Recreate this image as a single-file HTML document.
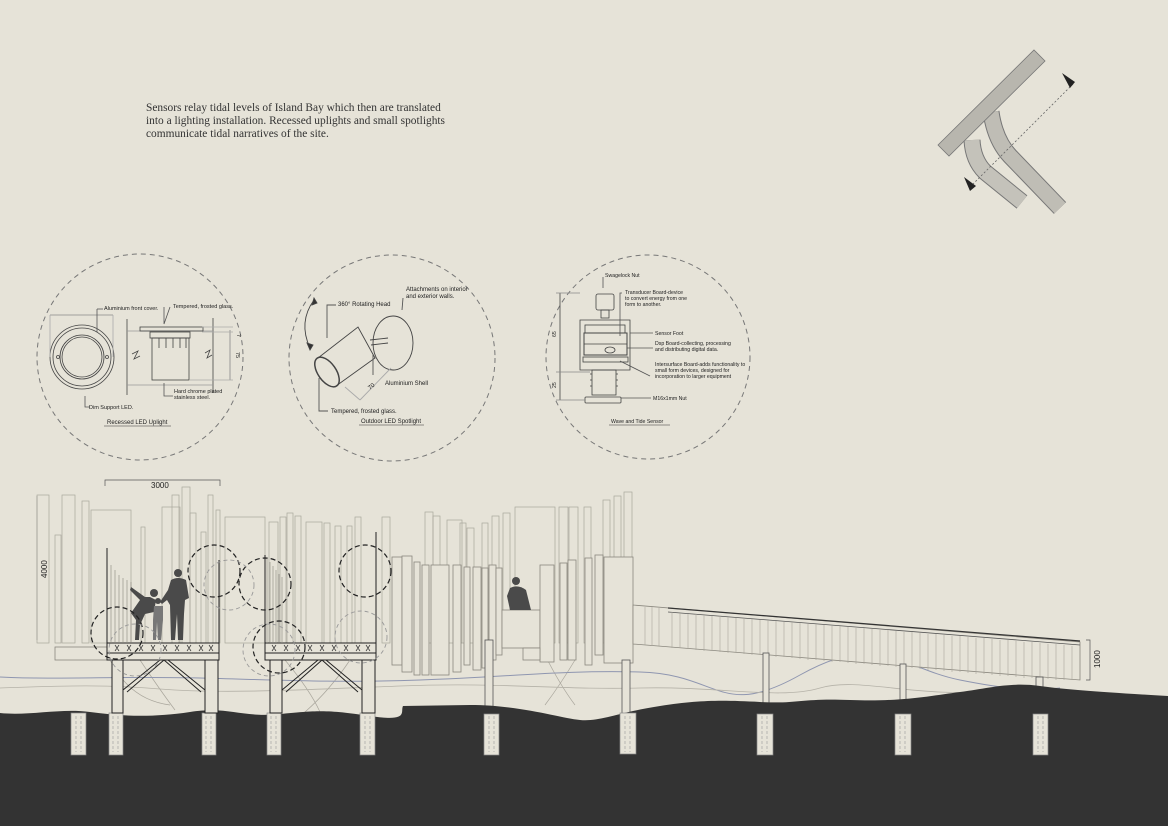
<!DOCTYPE html>
<html><head><meta charset="utf-8"><style>
html,body{margin:0;padding:0;background:#e6e3d8;}
svg{display:block}
.t{font-family:"Liberation Sans",sans-serif;fill:#222}
</style></head><body>
<svg width="1168" height="826" viewBox="0 0 1168 826" xmlns="http://www.w3.org/2000/svg">
<rect width="1168" height="826" fill="#e6e3d8"/>
<!-- Intro text -->
<text font-family="Liberation Serif,serif" font-size="11.4" fill="#333">
<tspan x="146" y="111">Sensors relay tidal levels of Island Bay which then are translated</tspan>
<tspan x="146" y="124">into a lighting installation. Recessed uplights and small spotlights</tspan>
<tspan x="146" y="137">communicate tidal narratives of the site.</tspan>
</text>

<!-- top right plan -->
<g fill="none" stroke-linecap="butt">
<path d="M991,112 Q995,140 1010,156 L1060,208" stroke="#777" stroke-width="17"/>
<path d="M991,112 Q995,140 1010,156 L1060,208" stroke="#bfbdb5" stroke-width="15"/>
<path d="M972,140 Q973,160 985,172 L1022,202" stroke="#777" stroke-width="17"/>
<path d="M972,140 Q973,160 985,172 L1022,202" stroke="#c4c2ba" stroke-width="15"/>
</g>
<polygon points="938,145 1034,50 1045,61 949,156" fill="#b8b6ae" stroke="#777" stroke-width="0.8"/>
<line x1="1073" y1="84" x2="972" y2="185" stroke="#666" stroke-dasharray="2,2" stroke-width="0.8"/>
<polygon points="1062,73 1075,82 1070,88" fill="#222"/>
<polygon points="964,177 976,186 970,191" fill="#222"/>

<!-- detail circles -->
<g fill="none" stroke="#777" stroke-dasharray="5,4" stroke-width="1">
<circle cx="140" cy="357" r="103"/>
<circle cx="392" cy="358" r="103"/>
<circle cx="648" cy="357" r="102"/>
</g>

<!-- circle 1 -->
<g stroke="#444" fill="none" stroke-width="0.8">
<circle cx="82" cy="357" r="32"/><circle cx="82" cy="357" r="29"/>
<circle cx="82" cy="357" r="22"/><circle cx="82" cy="357" r="20"/>
<circle cx="58" cy="357" r="1.5"/><circle cx="107" cy="357" r="1.5"/>
<line x1="50" y1="315" x2="113" y2="315" stroke="#888"/>
<line x1="50" y1="315" x2="50" y2="357" stroke="#aaa"/><line x1="113" y1="315" x2="113" y2="357" stroke="#aaa"/>
<line x1="127" y1="319" x2="127" y2="395"/><line x1="213" y1="318" x2="213" y2="393"/>
<line x1="127" y1="331" x2="213" y2="331" stroke="#999"/><line x1="127" y1="385" x2="213" y2="385" stroke="#999"/>
<rect x="140" y="327" width="63" height="4"/>
<rect x="150" y="332" width="40" height="6"/>
<rect x="152" y="338" width="37" height="42"/>
<path d="M159,338v10M166,338v10M173,338v10M180,338v10M186,338v10"/>
<path d="M132,354l6,-3l-4,8l6,-3M205,353l5,-3l-3,8l5,-3"/>
<line x1="230" y1="330" x2="230" y2="380" stroke="#888"/>
<line x1="202" y1="327" x2="233" y2="327" stroke="#aaa"/><line x1="202" y1="332" x2="233" y2="332" stroke="#aaa"/>
<line x1="190" y1="380" x2="233" y2="380" stroke="#aaa"/>
<polyline points="97,309 97,332" stroke="#555"/>
<polyline points="97,309 103,309" stroke="#555"/>
<polyline points="164,307 164,324 170,307" stroke="#555"/>
<polyline points="164,383 164,396 173,396" stroke="#555"/>
<polyline points="85,396 85,407 90,407" stroke="#555"/>
</g>
<g class="t" font-size="5.5">
<text x="104" y="310">Aluminium front cover.</text>
<text x="173" y="308">Tempered, frosted glass.</text>
<text x="174" y="393">Hard chrome plated</text><text x="174" y="399">stainless steel.</text>
<text x="89" y="409">Dim Support LED.</text>
<text x="237" y="334" transform="rotate(90 237 334)">7</text>
<text x="236" y="352" transform="rotate(90 236 352)">75</text>
<text x="107" y="424" font-size="6">Recessed LED Uplight</text>
</g>
<line x1="104" y1="426" x2="171" y2="426" stroke="#333" stroke-width="0.6"/>

<!-- circle 2 -->
<g stroke="#444" fill="none" stroke-width="0.9">
<path d="M314,300 Q298,322 310,348"/>
<polygon points="314,298 312,305 317,303" fill="#333"/>
<polygon points="310,350 307,343 313,345" fill="#333"/>
<ellipse cx="393" cy="343" rx="20" ry="27"/>
<line x1="370" y1="340" x2="388" y2="338"/><line x1="371" y1="345" x2="388" y2="343"/>
<path d="M318,358 L358,327 L375,358 L336,386"/>
<ellipse cx="327" cy="372" rx="9" ry="17" transform="rotate(-35 327 372)" stroke-width="1.5"/>
<polyline points="336,305 327,305 327,338" stroke="#555"/>
<polyline points="373,375 373,355" stroke="#555"/>
<line x1="345" y1="387" x2="360" y2="400" stroke="#aaa"/><line x1="360" y1="400" x2="391" y2="368" stroke="#aaa"/>
<polyline points="319,378 319,411 328,411" stroke="#555"/>
<line x1="403" y1="298" x2="402" y2="310" stroke="#555"/>
</g>
<g class="t" font-size="6">
<text x="338" y="306">360° Rotating Head</text>
<text x="406" y="291">Attachments on interior</text><text x="406" y="298">and exterior walls.</text>
<text x="385" y="385">Aluminium Shell</text>
<text x="331" y="413">Tempered, frosted glass.</text>
<text x="370" y="390" transform="rotate(-40 370 390)">70</text>
<text x="361" y="423">Outdoor LED Spotlight</text>
</g>
<line x1="359" y1="425" x2="424" y2="425" stroke="#333" stroke-width="0.6"/>

<!-- circle 3 -->
<g stroke="#444" fill="none" stroke-width="0.8">
<rect x="596" y="294" width="18" height="16" rx="2"/>
<rect x="601" y="310" width="8" height="8"/>
<path d="M580,320 h50 v50 h-50 z"/>
<rect x="585" y="325" width="40" height="8"/>
<rect x="584" y="333" width="43" height="22" stroke-width="1"/>
<line x1="584" y1="344" x2="627" y2="344"/>
<ellipse cx="610" cy="350" rx="5" ry="3"/>
<rect x="583" y="357" width="45" height="5"/>
<rect x="592" y="370" width="24" height="25"/>
<path d="M590,374h2M590,380h2M590,386h2M616,374h2M616,380h2M616,386h2"/>
<rect x="585" y="397" width="36" height="6" rx="1"/>
<line x1="560" y1="293" x2="560" y2="400"/>
<line x1="556" y1="293" x2="580" y2="293" stroke="#888"/>
<line x1="556" y1="372" x2="590" y2="372" stroke="#888"/>
<line x1="556" y1="400" x2="585" y2="400" stroke="#888"/>
<polyline points="603,277 603,288" stroke="#555"/>
<polyline points="622,293 620,293 620,336" stroke="#555"/>
<line x1="630" y1="333" x2="653" y2="333" stroke="#555"/>
<line x1="627" y1="348" x2="653" y2="348" stroke="#555"/>
<line x1="620" y1="361" x2="650" y2="376" stroke="#555"/>
<line x1="621" y1="398" x2="651" y2="398" stroke="#555"/>
</g>
<g class="t" font-size="5.2">
<text x="605" y="277">Swagelock Nut</text>
<text x="625" y="294">Transducer Board-device</text><text x="625" y="300">to convert energy from one</text><text x="625" y="306">form to another.</text>
<text x="655" y="335">Sensor Foot</text>
<text x="655" y="345">Dsp Board-collecting, processing</text><text x="655" y="351">and distributing digital data.</text>
<text x="655" y="366">Intersurface Board-adds functionality to</text><text x="655" y="372">small form devices, designed for</text><text x="655" y="378">incorporation to larger equipment</text>
<text x="653" y="400">M16x1mm Nut</text>
<text x="556" y="337" transform="rotate(-90 556 337)">65</text>
<text x="556" y="388" transform="rotate(-90 556 388)">25</text>
<text x="611" y="423">Wave and Tide Sensor</text>
</g>
<line x1="609" y1="425" x2="670" y2="425" stroke="#333" stroke-width="0.6"/>

<!-- dimensions on section -->
<g stroke="#555" stroke-width="0.7" fill="none">
<polyline points="105,486 105,480 220,480 220,486"/>
<polyline points="37,496 37,640" stroke="#888"/>
<polyline points="1086,640 1090,640 1090,680 1086,680"/>
</g>
<text class="t" x="151" y="488" font-size="8">3000</text>
<text class="t" x="47" y="578" font-size="8" transform="rotate(-90 47 578)">4000</text>
<text class="t" x="1100" y="668" font-size="8" transform="rotate(-90 1100 668)">1000</text>

<!-- background faint rectangles -->
<g fill="none" stroke="#a9a69c" stroke-width="0.7">
<rect x="37" y="495" width="12" height="148"/><rect x="55" y="535" width="6" height="108"/>
<rect x="62" y="495" width="13" height="148"/><rect x="82" y="501" width="7" height="142"/>
<rect x="91" y="510" width="40" height="133"/><rect x="141" y="527" width="4" height="116"/>
<rect x="162" y="507" width="18" height="136"/><rect x="172" y="495" width="7" height="148"/>
<rect x="182" y="487" width="8" height="156"/><rect x="190" y="513" width="6" height="130"/>
<rect x="201" y="532" width="5" height="111"/><rect x="208" y="495" width="5" height="148"/>
<rect x="216" y="510" width="4" height="133"/><rect x="225" y="517" width="40" height="126"/>
<rect x="269" y="522" width="9" height="121"/><rect x="280" y="517" width="6" height="126"/>
<rect x="287" y="513" width="6" height="130"/><rect x="295" y="516" width="6" height="127"/>
<rect x="306" y="522" width="16" height="121"/><rect x="324" y="523" width="6" height="120"/>
<rect x="335" y="526" width="6" height="117"/><rect x="347" y="526" width="5" height="117"/>
<rect x="355" y="517" width="6" height="126"/><rect x="382" y="517" width="8" height="126"/>
<rect x="425" y="512" width="8" height="131"/><rect x="433" y="516" width="7" height="127"/>
<rect x="447" y="520" width="15" height="123"/><rect x="460" y="523" width="6" height="120"/>
<rect x="467" y="528" width="7" height="115"/><rect x="482" y="523" width="6" height="120"/>
<rect x="492" y="516" width="7" height="127"/><rect x="503" y="513" width="7" height="130"/>
<rect x="515" y="507" width="40" height="136"/><rect x="559" y="507" width="9" height="136"/>
<rect x="569" y="507" width="9" height="136"/><rect x="584" y="507" width="7" height="136"/>
<rect x="603" y="500" width="7" height="143"/><rect x="614" y="496" width="7" height="147"/>
<rect x="624" y="492" width="8" height="151"/>
<path d="M140,660 Q160,690 175,710 M110,660 Q130,700 170,705 M285,660 Q310,690 320,712 M350,660 Q330,690 305,712 M545,655 Q560,685 575,705 M575,660 Q560,685 545,705"/>
</g>
<!-- darker middle rectangles -->
<g fill="#e6e3d8" stroke="#8a877e" stroke-width="0.8">
<rect x="392" y="557" width="10" height="108"/><rect x="402" y="556" width="10" height="116"/>
<rect x="414" y="562" width="6" height="113"/><rect x="422" y="565" width="7" height="110"/>
<rect x="431" y="565" width="18" height="110"/><rect x="453" y="565" width="8" height="107"/>
<rect x="464" y="567" width="6" height="98"/><rect x="473" y="567" width="8" height="103"/>
<rect x="482" y="568" width="6" height="100"/><rect x="489" y="565" width="7" height="95"/>
<rect x="496" y="568" width="6" height="87"/>
<rect x="502" y="610" width="38" height="38"/>
<rect x="540" y="565" width="14" height="97"/><rect x="560" y="563" width="7" height="97"/>
<rect x="568" y="560" width="8" height="100"/><rect x="585" y="558" width="7" height="107"/>
<rect x="595" y="555" width="8" height="100"/><rect x="604" y="557" width="29" height="106"/>
<rect x="55" y="647" width="52" height="13"/><rect x="523" y="648" width="17" height="12"/>
</g>

<!-- water lines -->
<path d="M0,677 C60,680 120,676 200,678 S330,683 420,680 S560,670 640,672 S720,720 800,675 S900,668 960,680 S1040,690 1060,688" fill="none" stroke="#8f96b0" stroke-width="1"/>
<path d="M0,688 C60,686 100,684 160,689 S300,690 400,686 S560,690 640,688 S780,700 820,688 S920,700 1000,690 L1060,692" fill="none" stroke="#b5b2a8" stroke-width="0.8"/>

<!-- ramp -->
<g fill="none" stroke="#8a877e" stroke-width="0.8">
<polygon points="633,605 1080,642 1080,680 633,644" fill="#e6e3d8"/>
<line x1="668" y1="608" x2="1080" y2="641" stroke="#333" stroke-width="1.2"/>
<line x1="668" y1="612" x2="1080" y2="645" stroke="#555"/>
</g>
<g stroke="#a9a69c" stroke-width="0.6">
<line x1="645" y1="607" x2="645" y2="645"/><line x1="652" y1="607" x2="652" y2="646"/><line x1="659" y1="608" x2="659" y2="646"/>
<line x1="672" y1="612" x2="672" y2="648"/><line x1="680" y1="613" x2="680" y2="648"/><line x1="688" y1="614" x2="688" y2="649"/>
<line x1="696" y1="614" x2="696" y2="650"/><line x1="704" y1="615" x2="704" y2="651"/><line x1="712" y1="616" x2="712" y2="651"/>
<line x1="720" y1="616" x2="720" y2="652"/><line x1="728" y1="617" x2="728" y2="653"/><line x1="736" y1="618" x2="736" y2="653"/>
<line x1="744" y1="618" x2="744" y2="654"/><line x1="752" y1="619" x2="752" y2="655"/><line x1="760" y1="620" x2="760" y2="655"/>
<line x1="768" y1="620" x2="768" y2="656"/><line x1="776" y1="621" x2="776" y2="657"/><line x1="784" y1="622" x2="784" y2="657"/>
<line x1="792" y1="622" x2="792" y2="658"/><line x1="800" y1="623" x2="800" y2="659"/><line x1="808" y1="624" x2="808" y2="660"/>
<line x1="816" y1="624" x2="816" y2="660"/><line x1="824" y1="625" x2="824" y2="661"/><line x1="832" y1="626" x2="832" y2="662"/>
<line x1="840" y1="626" x2="840" y2="662"/><line x1="848" y1="627" x2="848" y2="663"/><line x1="856" y1="628" x2="856" y2="664"/>
<line x1="864" y1="628" x2="864" y2="664"/><line x1="872" y1="629" x2="872" y2="665"/><line x1="880" y1="630" x2="880" y2="666"/>
<line x1="888" y1="630" x2="888" y2="666"/><line x1="896" y1="631" x2="896" y2="667"/><line x1="904" y1="632" x2="904" y2="668"/>
<line x1="912" y1="632" x2="912" y2="668"/><line x1="920" y1="633" x2="920" y2="669"/><line x1="928" y1="634" x2="928" y2="670"/>
<line x1="936" y1="634" x2="936" y2="670"/><line x1="944" y1="635" x2="944" y2="671"/><line x1="952" y1="636" x2="952" y2="672"/>
<line x1="960" y1="636" x2="960" y2="672"/><line x1="968" y1="637" x2="968" y2="673"/><line x1="976" y1="638" x2="976" y2="674"/>
<line x1="984" y1="638" x2="984" y2="674"/><line x1="992" y1="639" x2="992" y2="675"/><line x1="1000" y1="640" x2="1000" y2="676"/>
<line x1="1008" y1="640" x2="1008" y2="676"/><line x1="1016" y1="641" x2="1016" y2="677"/><line x1="1024" y1="642" x2="1024" y2="678"/>
<line x1="1032" y1="642" x2="1032" y2="678"/><line x1="1040" y1="643" x2="1040" y2="679"/><line x1="1048" y1="644" x2="1048" y2="679"/>
<line x1="1056" y1="644" x2="1056" y2="680"/><line x1="1064" y1="645" x2="1064" y2="680"/><line x1="1072" y1="646" x2="1072" y2="680"/>
</g>
<!-- ramp columns -->
<g fill="#e6e3d8" stroke="#555" stroke-width="0.8">
<rect x="485" y="640" width="8" height="75"/><rect x="622" y="660" width="8" height="55"/>
<rect x="763" y="653" width="6" height="62"/><rect x="900" y="664" width="6" height="52"/><rect x="1036" y="677" width="7" height="38"/>
</g>

<!-- ground -->
<path d="M0,713 C30,716 60,708 90,712 S150,718 190,712 S240,718 280,714 S330,710 370,716 S400,712 403,706 L470,705 C520,705 560,718 580,720 S620,712 660,706 S720,700 760,702 S800,698 850,700 S930,696 960,692 S1010,682 1040,686 S1100,692 1168,696 L1168,826 L0,826 Z" fill="#333333"/>

<!-- footings -->
<g fill="#e6e3d8" stroke="#888" stroke-width="0.7">
<rect x="71" y="713" width="15" height="42"/><rect x="109" y="713" width="14" height="42"/>
<rect x="202" y="713" width="14" height="42"/><rect x="267" y="713" width="14" height="42"/>
<rect x="360" y="713" width="15" height="42"/><rect x="484" y="714" width="15" height="41"/>
<rect x="620" y="713" width="16" height="41"/><rect x="757" y="714" width="16" height="41"/>
<rect x="895" y="714" width="16" height="41"/><rect x="1033" y="714" width="15" height="41"/>
</g>
<g stroke="#999" stroke-width="0.6" stroke-dasharray="3,2">
<path d="M76,716v36M81,716v36M113,716v36M118,716v36M206,716v36M211,716v36M271,716v36M276,716v36M365,716v36M370,716v36M489,716v36M494,716v36M625,716v36M630,716v36M762,716v36M767,716v36M900,716v36M905,716v36M1038,716v36M1043,716v36"/>
</g>

<!-- decks -->
<g stroke="#222" stroke-width="1" fill="#e6e3d8">
<rect x="107" y="643" width="112" height="17"/>
<rect x="112" y="660" width="11" height="53"/><rect x="205" y="660" width="13" height="53"/>
<rect x="265" y="643" width="111" height="17"/>
<rect x="270" y="660" width="12" height="53"/><rect x="362" y="660" width="13" height="53"/>
<line x1="107" y1="653" x2="219" y2="653"/><line x1="265" y1="653" x2="376" y2="653"/>
<path d="M123,690 L160,660 M127,692 L164,660 M205,690 L168,660 M201,692 L164,660 M282,690 L318,660 M286,692 L322,660 M362,690 L326,660 M358,692 L322,660" fill="none"/>
<line x1="107" y1="548" x2="107" y2="643"/><line x1="219" y1="560" x2="219" y2="660"/>
<line x1="265" y1="555" x2="265" y2="650"/><line x1="376" y1="532" x2="376" y2="643"/>
</g>
<g stroke="#333" stroke-width="0.7" fill="none">
<path d="M115,645l4,6m0,-6l-4,6M127,645l4,6m0,-6l-4,6M139,645l4,6m0,-6l-4,6M151,645l4,6m0,-6l-4,6M163,645l4,6m0,-6l-4,6M175,645l4,6m0,-6l-4,6M187,645l4,6m0,-6l-4,6M199,645l4,6m0,-6l-4,6M209,645l4,6m0,-6l-4,6"/>
<path d="M272,645l4,6m0,-6l-4,6M284,645l4,6m0,-6l-4,6M296,645l4,6m0,-6l-4,6M308,645l4,6m0,-6l-4,6M320,645l4,6m0,-6l-4,6M332,645l4,6m0,-6l-4,6M344,645l4,6m0,-6l-4,6M356,645l4,6m0,-6l-4,6M366,645l4,6m0,-6l-4,6"/>
</g>
<!-- vertical slats near decks -->
<g stroke="#8a877e" stroke-width="0.6">
<path d="M111,565v78M115,570v73M119,575v68M123,578v65M127,580v63M131,582v61M267,558v85M270,562v81M273,566v77M276,570v73M279,574v69M282,577v66"/>
</g>

<!-- people -->
<g fill="#4a4a4a">
<circle cx="178" cy="573" r="4"/>
<path d="M171,580 Q178,576 186,580 L189,598 L185,600 L184,614 L183,640 L178,640 L177,614 L175,640 L171,640 L170,605 L167,600 L162,604 L160,602 L168,590 Z"/>
<circle cx="154" cy="593" r="4"/>
<path d="M131,587 L145,597 L150,597 L156,600 L154,612 L145,614 L140,625 L139,640 L135,640 L136,620 L131,613 L140,600 L130,590 Z"/>
<circle cx="158" cy="601" r="3"/>
<path d="M154,606 L163,606 L163,620 L161,640 L158,640 L157,622 L156,640 L153,640 L153,620 Z" fill="#777"/>
<circle cx="516" cy="581" r="4"/>
<path d="M510,588 Q518,584 526,590 L531,610 L510,610 L507,596 Z"/>
</g>

<!-- dashed circles -->
<g fill="none" stroke="#222" stroke-width="1.2" stroke-dasharray="5,3">
<circle cx="117" cy="633" r="26"/><circle cx="214" cy="571" r="26"/>
<circle cx="265" cy="584" r="26"/><circle cx="279" cy="647" r="26"/><circle cx="365" cy="571" r="26"/>
</g>
<g fill="none" stroke="#999" stroke-width="0.9" stroke-dasharray="4,3">
<circle cx="135" cy="650" r="26"/><circle cx="229" cy="585" r="25"/>
<circle cx="269" cy="650" r="26"/><circle cx="361" cy="637" r="26"/>
</g>
</svg>
</body></html>
